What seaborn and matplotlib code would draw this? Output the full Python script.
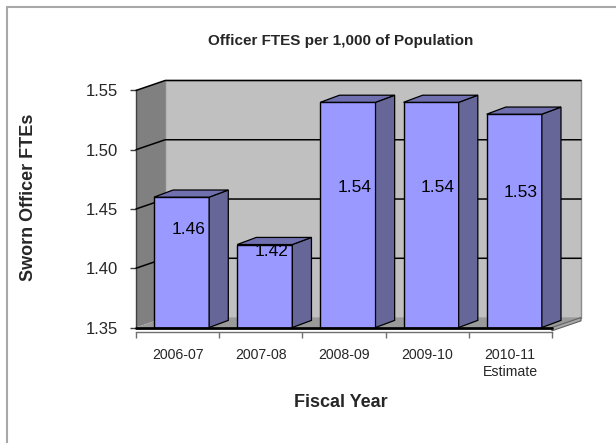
import matplotlib
matplotlib.use("Agg")
import matplotlib.pyplot as plt
from matplotlib.patches import Polygon, Rectangle
from matplotlib.lines import Line2D
import seaborn as sns
import pandas as pd

# Fiscal years and sworn officer FTEs per 1,000 of population
years = ["2006-07", "2007-08", "2008-09", "2009-10", "2010-11\nEstimate"]
officer_ftes = [1.46, 1.42, 1.54, 1.54, 1.53]
y_ticks = [1.35, 1.40, 1.45, 1.50, 1.55]

sns.set_theme(style="white")
plt.rcParams["font.family"] = ["Liberation Sans", "DejaVu Sans"]

W, H = 616, 443
fig = plt.figure(figsize=(W / 100, H / 100), dpi=100)
fig.patch.set_facecolor("white")


def fx(px):
    return px / W


def fy(py):
    return 1 - py / H


# 3-D box geometry (data units)
base, top = y_ticks[0], y_ticks[-1]
wall_dx, wall_dy = 0.35, 0.0084
bar_dx, bar_dy = 0.23, 0.006
bar_width, bar_shift = 0.663, 0.048
x_left, x_right = -0.5, len(years) - 0.5

ax = fig.add_axes([fx(136), fy(327.5), fx(581) - fx(136), fy(80.5) - fy(327.5)])

df = pd.DataFrame({"year": years, "ftes": officer_ftes})
sns.barplot(data=df, x="year", y="ftes", ax=ax, width=bar_width,
            color="#9999FF", saturation=1, edgecolor="black",
            linewidth=1.0, zorder=5)
bars = list(ax.patches)

ax.set_xlim(x_left, x_right + wall_dx)
ax.set_ylim(base, top + wall_dy)
ax.set_xlabel("")
ax.set_ylabel("")
ax.set_facecolor("white")

# walls and floor
ax.add_patch(Rectangle((x_left + wall_dx, base + wall_dy),
                       x_right - x_left, top - base,
                       fc="#C0C0C0", ec="#8C8C8C", lw=1.0, zorder=1, clip_on=False))
ax.add_patch(Polygon([(x_left, base), (x_left + wall_dx, base + wall_dy),
                      (x_left + wall_dx, top + wall_dy), (x_left, top)],
                     fc="#808080", ec="none", zorder=1.5, clip_on=False))
ax.add_patch(Polygon([(x_left, base), (x_right, base),
                      (x_right + wall_dx, base + wall_dy),
                      (x_left + wall_dx, base + wall_dy)],
                     fc="#9A9A9A", ec="none", zorder=2, clip_on=False))
ax.add_patch(Polygon([(x_right, base), (x_right + wall_dx, base + wall_dy),
                      (x_right + wall_dx, base + wall_dy - 0.0028),
                      (x_right, base - 0.0028)],
                     fc="#A8A8A8", ec="#606060", lw=0.8, zorder=2, clip_on=False))

# gridlines across side wall and back wall
for v in y_ticks[1:]:
    ax.plot([x_left, x_left + wall_dx, x_right + wall_dx],
            [v, v + wall_dy, v + wall_dy],
            color="black", lw=1.1, zorder=3, clip_on=False)

# front edge of the floor
ax.plot([x_left, x_right], [base, base], color="black", lw=2.0,
        zorder=7, clip_on=False)

# bars: shift front faces, then add side and top faces plus labels
for p, v in zip(bars, officer_ftes):
    p.set_x(p.get_x() + bar_shift)
    xl = p.get_x()
    xr = xl + p.get_width()
    ax.add_patch(Polygon([(xr, base), (xr + bar_dx, base + bar_dy),
                          (xr + bar_dx, v + bar_dy), (xr, v)],
                         fc="#666699", ec="black", lw=0.9, zorder=5))
    ax.add_patch(Polygon([(xl, v), (xr, v), (xr + bar_dx, v + bar_dy),
                          (xl + bar_dx, v + bar_dy)],
                         fc="#7070B0", ec="black", lw=0.9, zorder=5))
    label_y = base + 0.033 + 0.45 * (v - base)
    ax.text((xl + xr) / 2 + 0.08, label_y, f"{v:.2f}", ha="center",
            va="center", fontsize=12.5, color="black", zorder=8)

# axes, ticks and spines
for s in ("top", "right"):
    ax.spines[s].set_visible(False)
ax.spines["left"].set_bounds(base, top)
ax.spines["left"].set_color("#404040")
ax.spines["left"].set_linewidth(1.0)
ax.spines["bottom"].set_bounds(x_left, x_right)
ax.spines["bottom"].set_position(("outward", 3))
ax.spines["bottom"].set_color("#707070")
ax.spines["bottom"].set_linewidth(1.0)

ax.set_yticks(y_ticks)
ax.set_yticklabels([f"{v:.2f}" for v in y_ticks], fontsize=12)
ax.tick_params(axis="y", direction="out", length=4, width=1.0,
               color="#404040", pad=9, left=True)
ax.set_xticks(range(len(years)))
ax.set_xticklabels(years, fontsize=10.2)
ax.tick_params(axis="x", which="major", length=0, pad=12)
ax.set_xticks([i - 0.5 for i in range(len(years) + 1)], minor=True)
ax.tick_params(axis="x", which="minor", direction="out", length=4,
               width=1.0, color="#707070", bottom=True)

# titles
fig.text(fx(340.5), fy(41), "Officer FTES per 1,000 of Population",
         ha="center", va="center", fontsize=11, fontweight="bold")
fig.text(fx(29), fy(197.5), "Sworn Officer FTEs", rotation=90,
         ha="center", va="center", fontsize=13, fontweight="bold")
fig.text(fx(341), fy(402.5), "Fiscal Year", ha="center", va="center",
         fontsize=13, fontweight="bold")

# chart border
fig.add_artist(Line2D([fx(6.5), 1], [fy(6.5), fy(6.5)], color="#A8A8A8", lw=1.5))
fig.add_artist(Line2D([fx(6.5), fx(6.5)], [fy(6.5), 0], color="#A8A8A8", lw=1.5))

fig.savefig("out.png", dpi=100, facecolor="white")
